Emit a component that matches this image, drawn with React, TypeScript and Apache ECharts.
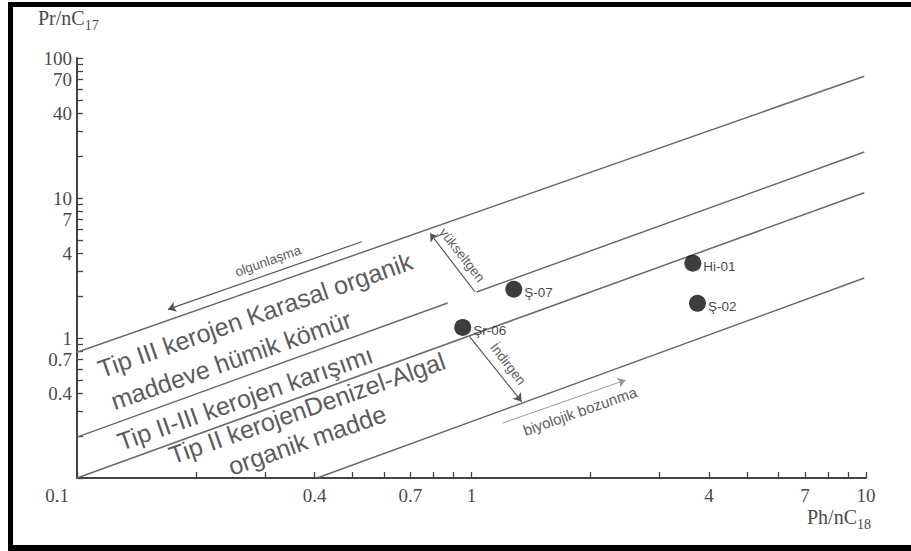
import React, { useEffect, useRef } from 'react';
import * as echarts from 'echarts';

// ---- data ----
const pointNames = ['Ş-07', 'Hi-01', 'Ş-02', 'Şr-06'];
const phRatio = [1.28, 3.64, 3.74, 0.95]; // Ph/nC18
const prRatio = [2.23, 3.42, 1.77, 1.19]; // Pr/nC17

// boundary lines (start / end in data units)
const boundaryStartX = [0.1, 0.1, 1.03, 0.1, 0.406];
const boundaryStartY = [0.79, 0.196, 2.13, 0.1, 0.1];
const boundaryEndX = [9.9, 0.87, 9.9, 9.9, 9.9];
const boundaryEndY = [74, 1.78, 21.3, 10.9, 2.68];

// process arrows (from -> to, arrow head at "to")
const arrowNames = ['olgunlaşma', 'yükseltgen', 'İndirgen', 'biyolojik bozunma'];
const arrowFromX = [0.527, 1.02, 0.99, 1.2];
const arrowFromY = [4.87, 2.14, 1.02, 0.247];
const arrowToX = [0.17, 0.785, 1.34, 2.46];
const arrowToY = [1.6, 5.6, 0.351, 0.501];

// ticks / labels
const xTickValues = [0.1, 0.2, 0.3, 0.4, 0.5, 0.6, 0.7, 0.8, 0.9, 1, 2, 3, 4, 5, 6, 7, 8, 9, 10];
const xLabelValues = [0.4, 0.7, 1, 4, 7, 10];
const yTickValues = [0.1, 0.2, 0.3, 0.4, 0.5, 0.6, 0.7, 0.8, 0.9, 1, 2, 3, 4, 5, 6, 7, 8, 9, 10,
  20, 30, 40, 50, 60, 70, 80, 90, 100];
const yLabelValues = [0.4, 0.7, 1, 4, 7, 10, 40, 70, 100];

const zoneTexts = [
  'Tip III kerojen Karasal organik',
  'maddeve hümik kömür',
  'Tip II-III kerojen karışımı',
  'Tip II kerojenDenizel-Algal',
  'organik madde',
];

const fmt = (v: number) => String(+Number(v).toPrecision(3));

export default function App() {
  const ref = useRef<HTMLDivElement>(null);
  useEffect(() => {
    if (!ref.current) return;
    const chart = echarts.init(ref.current, null, { renderer: 'svg' });
    const ANG = (19.33 * Math.PI) / 180;
    const STEEP = (-52 * Math.PI) / 180;
    const zonePos = [
      [255, 315],
      [231, 360],
      [245, 398],
      [307, 408],
      [307, 440],
    ];
    const arrowTextPos = [
      [268, 261, ANG, 13.5],
      [462, 255, STEEP, 13.5],
      [508, 364, STEEP, 13.5],
      [580, 411, ANG, 15],
    ];
    const axisCommon = {
      type: 'log',
      logBase: 10,
      axisLine: { show: true, onZero: false, lineStyle: { color: '#444', width: 2 } },
      splitLine: { show: false },
      minorTick: { show: false },
    };
    const labelCommon = {
      formatter: (v: number) => fmt(v),
      fontFamily: 'Liberation Serif',
      fontSize: 19,
      color: '#4a4a4a',
    };
    const option: any = {
      animation: false,
      backgroundColor: '#fff',
      grid: { left: 77, right: 45, top: 58, bottom: 73, containLabel: false, outerBoundsMode: 'none' },
      xAxis: {
        ...axisCommon,
        min: 0.1,
        max: 10,
        axisTick: { show: true, inside: true, length: 6, customValues: xTickValues, lineStyle: { color: '#444', width: 1.3 } },
        axisLabel: { ...labelCommon, customValues: xLabelValues, margin: 8 },
      },
      yAxis: {
        ...axisCommon,
        min: 0.1,
        max: 100,
        axisTick: { show: true, inside: true, length: 6, customValues: yTickValues, lineStyle: { color: '#444', width: 1.3 } },
        axisLabel: { ...labelCommon, customValues: yLabelValues, margin: 5 },
      },
      series: [
        {
          type: 'lines',
          coordinateSystem: 'cartesian2d',
          silent: true,
          symbol: 'none',
          lineStyle: { color: '#6a6a6a', width: 1.5, opacity: 1 },
          data: boundaryStartX.map((x, i) => ({
            coords: [
              [x, boundaryStartY[i]],
              [boundaryEndX[i], boundaryEndY[i]],
            ],
          })),
        },
        {
          type: 'lines',
          coordinateSystem: 'cartesian2d',
          silent: true,
          symbol: ['none', 'arrow'],
          symbolSize: 8,
          data: arrowNames.map((name, i) => ({
            name,
            coords: [
              [arrowFromX[i], arrowFromY[i]],
              [arrowToX[i], arrowToY[i]],
            ],
            lineStyle:
              i === 3
                ? { color: '#9a9a9a', width: 1, opacity: 1 }
                : { color: '#555', width: 1.2, opacity: 1 },
          })),
          lineStyle: { color: '#555', width: 1.2, opacity: 1 },
        },
        {
          type: 'scatter',
          symbol: 'circle',
          symbolSize: 17,
          itemStyle: { color: '#0d0d0d' },
          label: {
            show: true,
            position: 'right',
            distance: 2,
            offset: [0, 3],
            formatter: (p: any) => p.name,
            fontFamily: 'Liberation Sans',
            fontSize: 13.5,
            color: '#111',
          },
          data: pointNames.map((n, i) => ({ name: n, value: [phRatio[i], prRatio[i]] })),
        },
      ],
      graphic: [
        ...zoneTexts.map((t, i) => ({
          type: 'text',
          x: zonePos[i][0],
          y: zonePos[i][1],
          rotation: ANG,
          silent: true,
          style: {
            text: t,
            fontFamily: 'Liberation Sans',
            fontSize: 25,
            fill: '#5c5c5c',
            align: 'center',
            verticalAlign: 'middle',
          },
        })),
        ...arrowNames.map((t, i) => ({
          type: 'text',
          x: arrowTextPos[i][0],
          y: arrowTextPos[i][1],
          rotation: arrowTextPos[i][2],
          silent: true,
          style: {
            text: t,
            fontFamily: 'Liberation Sans',
            fontSize: arrowTextPos[i][3],
            fill: '#606060',
            align: 'center',
            verticalAlign: 'middle',
          },
        })),
        {
          type: 'text',
          x: 57,
          y: 495,
          silent: true,
          style: {
            text: '0.1',
            fontFamily: 'Liberation Serif',
            fontSize: 19,
            fill: '#4a4a4a',
            align: 'center',
            verticalAlign: 'middle',
          },
        },
        {
          type: 'text',
          x: 38,
          y: 18,
          silent: true,
          style: {
            text: '{a|Pr/nC}{b|17}',
            rich: {
              a: { fontFamily: 'Liberation Serif', fontSize: 20, fill: '#4a4a4a', verticalAlign: 'bottom' },
              b: { fontFamily: 'Liberation Serif', fontSize: 14, fill: '#4a4a4a', verticalAlign: 'bottom', padding: [0, 0, -4, 0] },
            },
            align: 'left',
            verticalAlign: 'middle',
          },
        },
        {
          type: 'text',
          x: 871,
          y: 517,
          silent: true,
          style: {
            text: '{a|Ph/nC}{b|18}',
            rich: {
              a: { fontFamily: 'Liberation Serif', fontSize: 20, fill: '#4a4a4a', verticalAlign: 'bottom' },
              b: { fontFamily: 'Liberation Serif', fontSize: 14, fill: '#4a4a4a', verticalAlign: 'bottom', padding: [0, 0, -4, 0] },
            },
            align: 'right',
            verticalAlign: 'middle',
          },
        },
        { type: 'rect', shape: { x: 8, y: 2, width: 903, height: 5 }, style: { fill: '#000' }, silent: true },
        { type: 'rect', shape: { x: 8, y: 2, width: 5, height: 549 }, style: { fill: '#000' }, silent: true },
        { type: 'rect', shape: { x: 8, y: 545, width: 903, height: 6 }, style: { fill: '#000' }, silent: true },
      ],
    };
    chart.setOption(option);
    return () => chart.dispose();
  }, []);
  return (
    <div
      ref={ref}
      style={{ position: 'fixed', left: 0, top: 0, width: 911, height: 551, background: '#fff' }}
    />
  );
}
